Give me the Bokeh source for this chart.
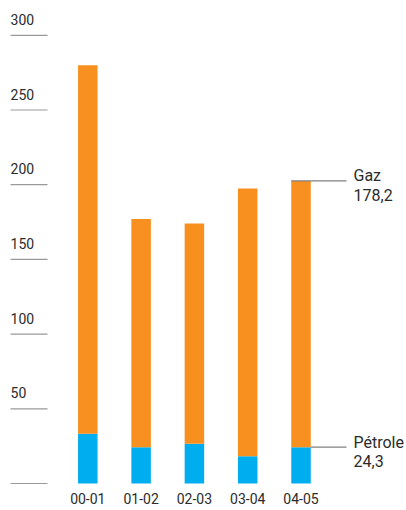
from bokeh.plotting import figure
from bokeh.models import Range1d, FixedTicker
from bokeh.core.properties import value
from bokeh.embed import file_html
from bokeh.resources import INLINE

# Data
categories = ["00-01", "01-02", "02-03", "03-04", "04-05"]
petrole = [33.3, 24.3, 26.6, 18.3, 24.3]
gaz = [246.7, 152.7, 147.4, 179.2, 178.2]
y_ticks = [0, 50, 100, 150, 200, 250, 300]
y_tick_labels = ["", "50", "100", "150", "200", "250", "300"]

FONT = "Roboto"
ORANGE = "#F7901E"
BLUE = "#00AEEF"
TEXT = "#2b2b2b"
GRID = "#9a9a9a"

xs = list(range(len(categories)))
totals = [p_ + g_ for p_, g_ in zip(petrole, gaz)]

p = figure(width=406, height=510, output_backend="svg", toolbar_location=None,
           x_range=Range1d(-1.638, 5.979), y_range=Range1d(-3.35, 323.3),
           min_border_left=0, min_border_right=0, min_border_top=0, min_border_bottom=22,
           y_axis_location=None)
p.outline_line_color = None
p.grid.visible = False
p.background_fill_color = "white"
p.border_fill_color = "white"

# x axis with category labels
ax = p.xaxis[0]
ax.ticker = FixedTicker(ticks=xs)
ax.major_label_overrides = {i: c for i, c in enumerate(categories)}
ax.axis_line_color = None
ax.major_tick_line_color = None
ax.minor_tick_line_color = None
ax.major_tick_out = 0
ax.major_tick_in = 0
ax.major_label_standoff = 4
ax.major_label_text_font = FONT
ax.major_label_text_font_size = "14px"
ax.major_label_text_color = TEXT

# short gridline segments on the left with labels above them
gx0, gx1 = -1.450, -0.756
p.segment(x0=[gx0] * len(y_ticks), x1=[gx1] * len(y_ticks), y0=y_ticks, y1=y_ticks,
          line_color=GRID, line_width=1.2)
p.text(x=[gx0] * len(y_ticks), y=y_ticks, text=y_tick_labels, text_align="left",
       text_baseline="alphabetic", y_offset=-16, text_font=value(FONT),
       text_font_size="14px", text_color=TEXT)

# stacked bars
bw = 0.366
p.vbar(x=xs, bottom=0, top=petrole, width=bw, fill_color=BLUE, line_color=None)
p.vbar(x=xs, bottom=petrole, top=totals, width=bw, fill_color=ORANGE, line_color=None)

# annotations for last bar
last = len(categories) - 1
lx_end = 4.854
p.segment(x0=[last - bw / 2, last + bw / 2], x1=[lx_end, lx_end],
          y0=[totals[last], petrole[last]], y1=[totals[last], petrole[last]],
          line_color="#808080", line_width=1.2)

def fmt(v):
    return f"{v:.1f}".replace(".", ",")

tx = 4.985
p.text(x=[tx, tx], y=[totals[last], petrole[last]], text=["Gaz", "Pétrole"],
       text_align="left", text_baseline="alphabetic", y_offset=-5,
       text_font=value(FONT), text_font_size="16px", text_color=TEXT)
p.text(x=[tx, tx], y=[totals[last], petrole[last]], text=[fmt(gaz[last]), fmt(petrole[last])],
       text_align="left", text_baseline="alphabetic", y_offset=14,
       text_font=value(FONT), text_font_size="16px", text_color=TEXT)

open("out.html", "w").write(file_html(p, INLINE))
